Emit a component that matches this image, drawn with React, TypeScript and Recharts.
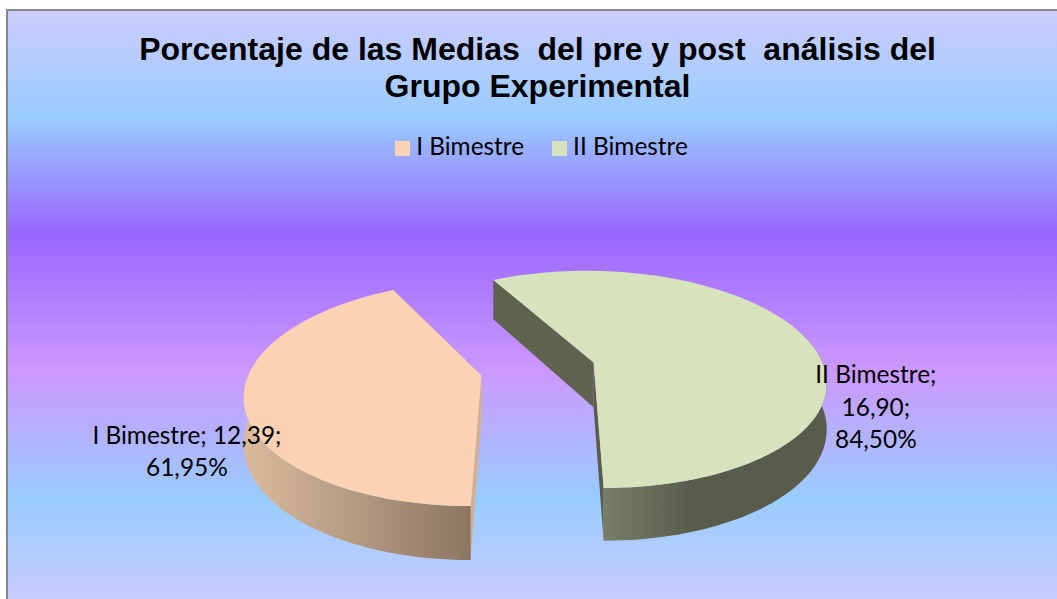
import { Legend, Pie, PieChart } from 'recharts'

const categories = ['I Bimestre', 'II Bimestre']
const means = [12.39, 16.9]
const percents = [61.95, 84.5]

const COLOURS = ['#fbd2b4', '#d7e3bc']
const SIDE_COLOURS = ['#d2b193', '#595c4b']
const INNER_COLOURS = ['#d2b193', '#5f624f']
const WALL_GRADIENTS = ['wallOrange', 'wallGreen']
const LABEL_OFFSETS = [
  [-57, 41],
  [70, 45],
]

const WIDTH = 1057
const HEIGHT = 599
const START_ANGLE = 117.7
const EXPLODE = 0.25
const SQUASH = 0.4675
const PERSPECTIVE = 0.156
const DEPTH = 45

const pieData = categories.map((name, i) => ({
  name,
  value: means[i],
  fill: COLOURS[i],
}))

const RAD = Math.PI / 180

function projector(cx: number, cy: number, radius: number) {
  return (u: number, v: number, drop = 0) => {
    const w = 1 + PERSPECTIVE * v
    const x = cx + (radius * u) / w
    const y = cy - (radius * SQUASH * v) / w + (DEPTH * drop) / w
    return [x, y] as [number, number]
  }
}

function toPath(points: [number, number][]) {
  return (
    points
      .map(([x, y], i) => `${i ? 'L' : 'M'}${x.toFixed(1)} ${y.toFixed(1)}`)
      .join(' ') + ' Z'
  )
}

function renderSlice(props: any) {
  const { cx, cy, outerRadius, startAngle, endAngle, index } = props
  const project = projector(cx, cy, outerRadius)
  const mid = ((startAngle + endAngle) / 2) * RAD
  const ou = EXPLODE * Math.cos(mid)
  const ov = EXPLODE * Math.sin(mid)

  const angles: number[] = []
  for (let a = startAngle; a < endAngle; a += 2) angles.push(a)
  angles.push(endAngle)

  const rim = (a: number, drop: number) =>
    project(ou + Math.cos(a * RAD), ov + Math.sin(a * RAD), drop)
  const apex = (drop: number) => project(ou, ov, drop)

  const front = angles.filter((a) => Math.sin(a * RAD) < 0.3)
  const top = [apex(0), ...angles.map((a) => rim(a, 0))]
  const wall = [
    ...front.map((a) => rim(a, 0)),
    ...[...front].reverse().map((a) => rim(a, 1)),
  ]
  const radial = (a: number) => [apex(0), rim(a, 0), rim(a, 1), apex(1)]

  return (
    <g>
      <path d={toPath(radial(startAngle))} fill={SIDE_COLOURS[index]} />
      <path d={toPath(radial(endAngle))} fill={INNER_COLOURS[index]} />
      <path d={toPath(wall)} fill={`url(#${WALL_GRADIENTS[index]})`} />
      <path d={toPath(top)} fill={COLOURS[index]} />
    </g>
  )
}

function renderLabel(props: any) {
  const { cx, cy, outerRadius, midAngle, index, name, value } = props
  const project = projector(cx, cy, outerRadius)
  const a = midAngle * RAD
  const ou = (1 + EXPLODE) * Math.cos(a)
  const ov = (1 + EXPLODE) * Math.sin(a)
  const [px, py] = project(ou, ov)
  const x = px + LABEL_OFFSETS[index][0]
  const y = py + LABEL_OFFSETS[index][1]
  const val = value.toFixed(2).replace('.', ',')
  const pct = percents[index].toFixed(2).replace('.', ',')
  const lines =
    index === 0
      ? [`${name}; ${val};`, `${pct}%`]
      : [`${name};`, `${val};`, `${pct}%`]
  return (
    <text x={x} y={y} textAnchor="middle" fill="#000" fontSize={24.4}>
      {lines.map((line, i) => (
        <tspan key={line} x={x} dy={i ? 32.5 : 0}>
          {line}
        </tspan>
      ))}
    </text>
  )
}

export default function App() {
  return (
    <div
      style={{
        position: 'absolute',
        left: 0,
        top: 0,
        width: WIDTH,
        height: HEIGHT,
        overflow: 'hidden',
        background: '#fff',
        fontFamily: 'Lato, sans-serif',
      }}
    >
      <div
        style={{
          position: 'absolute',
          left: 6,
          top: 9,
          width: WIDTH,
          height: HEIGHT,
          boxSizing: 'border-box',
          borderLeft: '2px solid #868686',
          borderTop: '2px solid #868686',
          background:
            'linear-gradient(180deg, #ccccff 0px, #99ccff 106px, #9966ff 223px, #cc99ff 361px, #99ccff 488px, #ccccff 596px)',
        }}
      />
      <div
        style={{
          position: 'absolute',
          left: 0,
          top: 31,
          width: 1075,
          textAlign: 'center',
          whiteSpace: 'pre',
          fontFamily: '"Liberation Sans", Arial, sans-serif',
          fontWeight: 700,
          fontSize: 32,
          lineHeight: '37px',
          color: '#000',
        }}
      >
        {'Porcentaje de las Medias  del pre y post  análisis del\nGrupo Experimental'}
      </div>
      <div style={{ position: 'absolute', left: 0, top: 0 }}>
        <PieChart width={WIDTH} height={HEIGHT}>
          <defs>
            <linearGradient id="wallOrange" x1="0" y1="0" x2="1" y2="0">
              <stop offset="0" stopColor="#dabb9e" />
              <stop offset="1" stopColor="#8c7662" />
            </linearGradient>
            <linearGradient id="wallGreen" x1="0" y1="0" x2="1" y2="0">
              <stop offset="0" stopColor="#7a7d68" />
              <stop offset="0.4" stopColor="#595c4b" />
              <stop offset="1" stopColor="#595c4b" />
            </linearGradient>
          </defs>
          <Legend
            verticalAlign="top"
            align="center"
            iconType="square"
            iconSize={15}
            wrapperStyle={{ top: 131, left: 18, width: 1075, fontSize: 24.4 }}
            formatter={(value) => (
              <span style={{ color: '#000', marginLeft: 2, marginRight: 18 }}>
                {value}
              </span>
            )}
          />
          <Pie
            data={pieData}
            dataKey="value"
            nameKey="name"
            cx={533}
            cy={335}
            outerRadius={231}
            startAngle={START_ANGLE}
            endAngle={START_ANGLE + 360}
            stroke="none"
            shape={renderSlice}
            label={renderLabel}
            labelLine={false}
            isAnimationActive={false}
          />
        </PieChart>
      </div>
    </div>
  )
}
